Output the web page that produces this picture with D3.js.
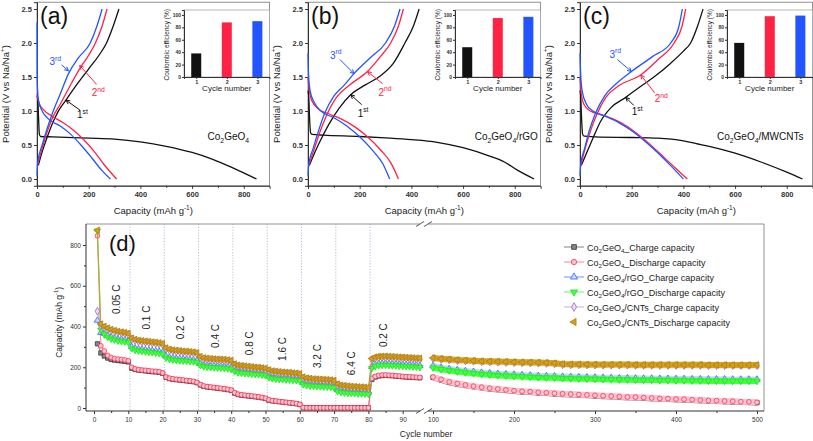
<!DOCTYPE html>
<html>
<head>
<meta charset="utf-8">
<script src="https://cdn.jsdelivr.net/npm/d3@7"></script>
<style>
    body { margin: 0; background: #fff; }
    svg text { font-family: Arial, "Liberation Sans", sans-serif; }
</style>
</head>
<body>
<svg id="chart" width="813" height="441"></svg>
<script>
"use strict";

// ---- panels (a)-(c): [capacity mAh/g, potential V] ----
var capTicks = [0, 200, 400, 600, 800];
var potTicks = [0, 0.5, 1, 1.5, 2, 2.5];

var aDis1 = [[0,1.22],[3,1.18],[6,0.9],[9,0.66],[14,0.625],[60,0.62],[200,0.6],[300,0.585],[400,0.545],[500,0.48],[600,0.39],[680,0.29],[760,0.16],[849,0]];
var aCha1 = [[5,0.2],[20,0.4],[40,0.62],[60,0.82],[80,0.98],[112,1.16],[160,1.42],[200,1.62],[240,1.82],[269,2.0],[295,2.25],[317,2.5]];
var aDis2 = [[0,1.25],[8,1.12],[25,1.02],[60,0.92],[100,0.83],[140,0.72],[180,0.58],[220,0.41],[260,0.21],[308,0]];
var aCha2 = [[3,0.22],[20,0.45],[40,0.7],[60,0.9],[90,1.1],[125,1.35],[165,1.62],[200,1.82],[226,2.0],[252,2.25],[271,2.5]];
var aDis3 = [[0,2.3],[1,1.42],[6,1.15],[20,1.0],[45,0.88],[90,0.78],[130,0.66],[170,0.5],[210,0.32],[250,0.13],[284,0]];
var aCha3 = [[0,0.05],[3,0.25],[20,0.5],[40,0.75],[60,0.97],[90,1.25],[122,1.55],[160,1.78],[206,2.0],[232,2.25],[252,2.5]];

var bDis1 = [[0,1.3],[3,1.2],[6,0.9],[10,0.68],[16,0.655],[60,0.645],[200,0.625],[300,0.605],[400,0.58],[500,0.54],[600,0.46],[700,0.34],[760,0.25],[810,0.13],[875,0]];
var bCha1 = [[5,0.2],[25,0.38],[50,0.58],[80,0.8],[120,1.04],[165,1.24],[220,1.38],[281,1.52],[330,1.7],[375,2.0],[408,2.25],[430,2.5]];
var bDis2 = [[0,1.5],[5,1.3],[15,1.15],[40,1.03],[80,0.96],[130,0.88],[180,0.77],[230,0.62],[280,0.43],[320,0.24],[350,0]];
var bCha2 = [[3,0.2],[25,0.45],[45,0.68],[70,0.92],[110,1.2],[160,1.38],[230,1.58],[280,1.8],[320,2.0],[350,2.25],[369,2.5]];
var bDis3 = [[0,1.85],[2,1.55],[8,1.3],[25,1.12],[50,1.0],[100,0.9],[150,0.78],[200,0.62],[250,0.42],[290,0.22],[316,0]];
var bCha3 = [[0,0.05],[3,0.22],[20,0.45],[40,0.7],[65,0.97],[100,1.22],[140,1.38],[178,1.55],[240,1.78],[300,2.0],[335,2.25],[356,2.5]];

var cDis1 = [[0,1.3],[3,1.2],[6,0.9],[10,0.66],[16,0.63],[60,0.62],[200,0.61],[300,0.6],[400,0.56],[450,0.52],[500,0.48],[600,0.38],[700,0.25],[800,0.1],[861,0]];
var cCha1 = [[5,0.2],[25,0.38],[50,0.6],[80,0.85],[120,1.05],[177,1.2],[230,1.35],[286,1.5],[350,1.7],[400,1.88],[428,2.0],[455,2.25],[476,2.5]];
var cDis2 = [[0,1.5],[5,1.25],[15,1.1],[40,1.0],[80,0.95],[130,0.88],[180,0.78],[230,0.64],[280,0.48],[330,0.3],[375,0.14],[415,0]];
var cCha2 = [[3,0.2],[20,0.45],[40,0.7],[65,0.95],[100,1.2],[150,1.37],[235,1.53],[300,1.75],[364,2.0],[395,2.25],[409,2.5]];
var cDis3 = [[0,1.85],[2,1.6],[8,1.3],[25,1.1],[50,1.0],[100,0.92],[150,0.83],[200,0.71],[250,0.56],[300,0.39],[350,0.2],[400,0]];
var cCha3 = [[0,0.05],[3,0.22],[18,0.45],[35,0.7],[58,0.95],[95,1.22],[140,1.4],[199,1.58],[280,1.8],[351,2.0],[383,2.25],[396,2.5]];

// coulombic efficiency insets (%), cycles 1..3
var ceCycles = [1, 2, 3];
var ceTicks = [0, 20, 40, 60, 80, 100];
var ceA = [38, 88, 90];
var ceB = [48, 95, 97];
var ceC = [55, 98, 99];

// ---- panel (d): rate + long cycling ----
var yTicksD = [0, 200, 400, 600, 800];
var leftTicks = [0, 10, 20, 30, 40, 50, 60, 70, 80, 90];
var rightTicks = [100, 200, 300, 400, 500];
var rateLabels = ["0.05 C", "0.1 C", "0.2 C", "0.4 C", "0.8 C", "1.6 C", "3.2 C", "6.4 C", "0.2 C"];
var rateLabelCycles = [6.7, 15.2, 25.1, 35.3, 45.2, 55.1, 65.3, 75.2, 84.3];
var cyclesL = d3.range(1, 96);
var cyclesR = d3.range(100, 501, 10);

var blackL = [315,270,255,245,238,235,233,231,229,226,
    195,189,186,184,182,180,178,177,175,170,
    150,144,141,139,137,135,133,131,129,124,
    113,106,103,101,99,97,95,93,90,86,
    73,66,63,61,59,57,55,53,50,46,
    38,35,33,31,29,27,25,23,21,17,
    1,1,1,1,1,1,1,1,1,1,1,1,1,1,1,1,1,1,1,1,
    140,152,157,159,160,159,158,156,155,153,152,151,150,149,148];
var redL = [845,305,280,258,248,242,240,238,236,232,
    200,192,188,186,185,183,181,180,178,172,
    152,146,143,141,139,137,135,133,131,126,
    115,108,105,103,101,99,97,95,92,88,
    75,68,65,63,61,59,57,55,52,48,
    40,36,34,32,30,28,26,24,22,18,
    2,1,1,1,1,1,1,1,1,1,1,1,1,1,1,1,1,1,1,1,
    145,155,160,162,162,161,160,158,157,155,154,153,152,151,150];
var blueL = [430,370,366,356,348,343,338,336,334,330,
    300,293,289,287,285,283,281,279,277,273,
    254,248,245,243,241,240,239,237,236,233,
    218,212,210,208,207,206,205,204,202,199,
    188,182,180,178,177,176,174,173,171,168,
    158,153,151,149,148,147,146,145,144,141,
    124,119,117,116,115,114,113,112,111,109,
    90,85,83,82,81,80,79,79,78,77,
    203,213,217,219,219,218,217,216,215,214,213,212,211,210,208];
var greenL = [870,383,360,348,340,335,330,328,326,322,
    292,285,281,279,277,275,273,271,269,265,
    246,240,237,235,233,232,231,229,228,225,
    210,204,202,200,199,198,197,196,194,191,
    180,174,172,170,169,168,166,165,163,160,
    150,145,143,141,140,139,138,137,136,133,
    116,111,109,108,107,106,105,104,103,101,
    82,77,75,74,73,72,71,71,70,69,
    195,205,209,211,211,210,209,208,207,206,205,204,203,202,200];
var purpleL = [475,405,395,387,380,375,371,368,365,361,
    338,331,327,325,323,321,319,317,315,311,
    290,283,280,278,276,274,273,271,270,266,
    247,241,239,237,236,235,234,233,231,228,
    211,205,203,201,199,197,195,194,192,189,
    182,177,175,173,171,170,169,167,166,163,
    147,142,140,138,137,136,135,134,133,130,
    113,107,105,103,101,100,99,98,97,95,
    238,245,248,249,249,248,247,246,245,244,243,242,241,240,239];
var goldL = [872,412,400,392,385,380,376,373,370,366,
    343,336,332,330,328,326,324,322,320,316,
    295,288,285,283,281,279,278,276,275,271,
    252,246,244,242,241,240,239,238,236,233,
    216,210,208,206,204,202,200,199,197,194,
    187,182,180,178,176,175,174,172,171,168,
    152,147,145,143,142,141,140,139,138,135,
    118,112,110,108,106,105,104,103,102,100,
    243,250,253,254,254,253,252,251,250,249,248,247,246,245,244];

var blackR = [150,138,126,118,111,105,100,95,91,87,83,80,78,75,73,70,68,66,64,62,
    60,58,56,54,52,51,49,47,45,44,42,41,39,37,35,34,32,31,29,28,26];
var redR = [152,140,128,120,113,107,102,97,93,89,85,82,80,77,75,72,70,68,66,64,
    62,60,58,56,54,53,51,49,47,46,44,43,41,39,37,36,34,33,31,30,28];
var blueR = [206,198,192,187,182,178,174,171,168,166,164,162,160,158,157,156,154,153,152,151,
    150,149,148,147,147,146,145,145,144,144,143,143,142,142,141,141,141,140,140,140,140];
var greenR = [198,190,184,179,174,170,166,163,160,158,156,154,152,150,149,148,146,145,144,143,
    142,141,140,139,139,138,137,137,136,136,135,135,134,134,133,133,133,132,132,132,132];
var purpleR = [243,239,236,233,231,229,227,226,225,224,223,222,221,220,219,217,213,212,212,211,
    211,210,210,210,210,209,209,209,209,209,209,209,209,209,208,208,208,208,208,208,208];
var goldR = [246,242,239,236,234,232,230,229,228,227,226,225,224,223,222,220,216,215,215,214,
    214,213,213,213,213,212,212,212,212,212,212,212,212,212,211,211,211,211,211,211,211];

var seriesNames = ["Co_{2}GeO_{4}_Charge capacity", "Co_{2}GeO_{4}_Discharge capacity",
    "Co_{2}GeO_{4}/rGO_Charge capacity", "Co_{2}GeO_{4}/rGO_Discharge capacity",
    "Co_{2}GeO_{4}/CNTs_Charge capacity", "Co_{2}GeO_{4}/CNTs_Discharge capacity"];

var svg = d3.select('#chart');
var BLACK = '#111', RED = '#ff2244', BLUE = '#2255ff';

// text with _{sub} and ^{sup}
function rich(el, str, size) {
    var off = 0;
    str.split(/([_^]\{[^}]*\})/).forEach(function(p) {
        if (!p) return;
        var t = el.append('tspan'), target = 0, txt = p;
        if (p.indexOf('_{') === 0) { target = size * 0.3; txt = p.slice(2, -1); t.attr('font-size', size * 0.68); }
        else if (p.indexOf('^{') === 0) { target = -size * 0.42; txt = p.slice(2, -1); t.attr('font-size', size * 0.68); }
        t.attr('dy', target - off).text(txt);
        off = target;
    });
    return el;
}

function styleAxis(ax, fs, bold) {
    ax.select('.domain').attr('stroke', '#333');
    ax.selectAll('.tick line').attr('stroke', '#333');
    ax.selectAll('.tick text').attr('font-size', fs).attr('fill', '#333')
        .attr('font-weight', bold ? 'bold' : 'normal');
}

function arrow(g, x1, y1, x2, y2, color) {
    var a = Math.atan2(y2 - y1, x2 - x1), h = 4.5;
    g.append('path')
        .attr('d', 'M' + x1 + ',' + y1 + 'L' + x2 + ',' + y2 +
            'M' + (x2 - h * Math.cos(a - 0.45)) + ',' + (y2 - h * Math.sin(a - 0.45)) +
            'L' + x2 + ',' + y2 +
            'L' + (x2 - h * Math.cos(a + 0.45)) + ',' + (y2 - h * Math.sin(a + 0.45)))
        .attr('fill', 'none').attr('stroke', color).attr('stroke-width', 1);
}

function potentialPanel(p) {
    var g = svg.append('g');
    var x = d3.scaleLinear().domain([0, 900]).range([p.left, p.left + 232.6]);
    var y = d3.scaleLinear().domain([-0.1, 2.6]).range([185.8, 2.2]);

    g.append('rect').attr('x', x(0)).attr('y', y(2.6))
        .attr('width', x(900) - x(0)).attr('height', y(-0.1) - y(2.6))
        .attr('fill', 'none').attr('stroke', '#777').attr('stroke-width', 0.8);

    var xa = g.append('g').attr('transform', 'translate(0,' + y(-0.1) + ')')
        .call(d3.axisBottom(x).tickValues(capTicks).tickSize(3).tickPadding(3));
    styleAxis(xa, 7.5, true);
    g.append('g').attr('transform', 'translate(0,' + y(-0.1) + ')')
        .call(d3.axisBottom(x).tickValues([100, 300, 500, 700]).tickSize(2).tickFormat(''))
        .call(function(s) { s.select('.domain').remove(); s.selectAll('line').attr('stroke', '#333'); });
    var ya = g.append('g').attr('transform', 'translate(' + x(0) + ',0)')
        .call(d3.axisLeft(y).tickValues(potTicks).tickSize(3).tickPadding(2).tickFormat(d3.format('.1f')));
    styleAxis(ya, 7.5, true);

    rich(g.append('text').attr('x', x(450)).attr('y', 214).attr('text-anchor', 'middle')
        .attr('font-size', 9.5).attr('fill', '#222'), 'Capacity (mAh g^{-1})', 9.5);
    rich(g.append('text').attr('transform', 'translate(' + (p.left - 28) + ',' + y(1.25) + ') rotate(-90)')
        .attr('text-anchor', 'middle').attr('font-size', 9.5).attr('fill', '#222'),
        'Potential (V vs Na/Na^{+})', 9.5);

    var line = d3.line().x(function(d) { return x(d[0]); }).y(function(d) { return y(d[1]); })
        .curve(d3.curveMonotoneX);
    p.curves.forEach(function(c) {
        g.append('path').datum(c[0]).attr('d', line).attr('fill', 'none')
            .attr('stroke', c[1]).attr('stroke-width', 1.3);
    });

    g.append('text').attr('x', p.left + 3).attr('y', 24).attr('font-size', 23).attr('fill', '#111').text(p.tag);
    rich(g.append('text').attr('x', x(p.labelCap)).attr('y', 140).attr('font-size', 10).attr('fill', '#111'), p.label, 10);

    p.notes.forEach(function(n) {
        var tx = x(n.tip[0]), ty = y(n.tip[1]);
        arrow(g, tx + n.tail[0], ty + n.tail[1], tx, ty, n.color);
        rich(g.append('text').attr('x', tx + n.text[0]).attr('y', ty + n.text[1])
            .attr('font-size', 10).attr('fill', n.color), n.str, 10);
    });

    // inset: coulombic efficiency
    var ix = d3.scaleLinear().domain([0.6, 3.4]).range([p.left + 147, p.left + 232.6]);
    var iy = d3.scaleLinear().domain([0, 108]).range([77, 10]);
    g.append('rect').attr('x', ix(0.6)).attr('y', iy(108)).attr('width', ix(3.4) - ix(0.6))
        .attr('height', iy(0) - iy(108)).attr('fill', '#fff').attr('stroke', '#999').attr('stroke-width', 0.7);
    g.selectAll('.bar').data(p.ce).enter().append('rect')
        .attr('x', function(d, i) { return ix(ceCycles[i]) - 5; })
        .attr('y', function(d) { return iy(d); })
        .attr('width', 10)
        .attr('height', function(d) { return iy(0) - iy(d); })
        .attr('fill', function(d, i) { return [BLACK, RED, BLUE][i]; });
    var ixa = g.append('g').attr('transform', 'translate(0,' + iy(0) + ')')
        .call(d3.axisBottom(ix).tickValues(ceCycles).tickSize(2).tickPadding(1).tickFormat(d3.format('d')));
    styleAxis(ixa, 5.5, true);
    var iya = g.append('g').attr('transform', 'translate(' + ix(0.6) + ',0)')
        .call(d3.axisLeft(iy).tickValues(ceTicks).tickSize(2).tickPadding(1));
    styleAxis(iya, 5, true);
    g.append('text').attr('x', ix(2)).attr('y', 91).attr('text-anchor', 'middle')
        .attr('font-size', 8).attr('fill', '#222').text('Cycle number');
    g.append('text').attr('transform', 'translate(' + (ix(0.6) - 15) + ',' + iy(52) + ') rotate(-90)')
        .attr('text-anchor', 'middle').attr('font-size', 6.5).attr('fill', '#222').text('Coulombic efficiency (%)');
}

potentialPanel({
    left: 37, tag: '(a)', label: 'Co_{2}GeO_{4}', labelCap: 660, ce: ceA,
    curves: [[aDis1, BLACK], [aCha1, BLACK], [aDis2, RED], [aCha2, RED], [aDis3, BLUE], [aCha3, BLUE]],
    notes: [
        { str: '3^{rd}', color: BLUE, tip: [122, 1.59], tail: [-7, -6], text: [-19, -6] },
        { str: '2^{nd}', color: RED, tip: [165, 1.67], tail: [17, 19], text: [12, 31] },
        { str: '1^{st}', color: BLACK, tip: [112, 1.16], tail: [14, 10], text: [11, 18] }
    ]
});
potentialPanel({
    left: 308, tag: '(b)', label: 'Co_{2}GeO_{4}/rGO', labelCap: 645, ce: ceB,
    curves: [[bDis1, BLACK], [bCha1, BLACK], [bDis2, RED], [bCha2, RED], [bDis3, BLUE], [bCha3, BLUE]],
    notes: [
        { str: '3^{rd}', color: BLUE, tip: [178, 1.55], tail: [-14, -14], text: [-24, -15] },
        { str: '2^{nd}', color: RED, tip: [230, 1.58], tail: [15, 12], text: [11, 24] },
        { str: '1^{st}', color: BLACK, tip: [165, 1.24], tail: [11, 10], text: [7, 22] }
    ]
});
potentialPanel({
    left: 580, tag: '(c)', label: 'Co_{2}GeO_{4}/MWCNTs', labelCap: 530, ce: ceC,
    curves: [[cDis1, BLACK], [cCha1, BLACK], [cDis2, RED], [cCha2, RED], [cDis3, BLUE], [cCha3, BLUE]],
    notes: [
        { str: '3^{rd}', color: BLUE, tip: [199, 1.58], tail: [-14, -12], text: [-22, -14] },
        { str: '2^{nd}', color: RED, tip: [235, 1.53], tail: [14, 18], text: [14, 27] },
        { str: '1^{st}', color: BLACK, tip: [177, 1.2], tail: [8, 8], text: [6, 18] }
    ]
});

// ---- panel (d) ----
(function() {
    var g = svg.append('g');
    var top = 224, bottom = 411, left = 86, right = 764;
    var y = d3.scaleLinear().domain([0, 800]).range([408, 245]);
    var xL = d3.scaleLinear().domain([0, 90]).range([94, 402.7]);
    var xR = d3.scaleLinear().domain([100, 500]).range([433, 757]);
    var breakL = 420, breakR = 428;

    // frame
    g.append('path').attr('d', 'M' + left + ',' + top + 'H' + breakL + 'M' + breakR + ',' + top + 'H' + right + 'V' + bottom)
        .attr('fill', 'none').attr('stroke', '#777').attr('stroke-width', 0.8);
    g.append('path').attr('d', 'M' + left + ',' + top + 'V' + bottom + 'H' + breakL + 'M' + breakR + ',' + bottom + 'H' + right)
        .attr('fill', 'none').attr('stroke', '#333').attr('stroke-width', 1);
    [breakL, breakR].forEach(function(bx) {
        [top, bottom].forEach(function(by) {
            g.append('line').attr('x1', bx - 4).attr('y1', by + 2.5).attr('x2', bx + 4).attr('y2', by - 2.5)
                .attr('stroke', '#333').attr('stroke-width', 0.8);
        });
    });

    // rate dividers
    d3.range(10.5, 81, 10).forEach(function(c) {
        g.append('line').attr('x1', xL(c)).attr('x2', xL(c)).attr('y1', top).attr('y2', bottom)
            .attr('stroke', '#8fa3c8').attr('stroke-width', 0.7).attr('stroke-dasharray', '1.2,1.6');
    });

    // axes
    var ya = g.append('g').attr('transform', 'translate(' + left + ',0)')
        .call(d3.axisLeft(y).tickValues(yTicksD).tickSize(3).tickPadding(2));
    ya.select('.domain').remove();
    styleAxis(ya, 6.5, false);
    g.append('g').attr('transform', 'translate(' + left + ',0)')
        .call(d3.axisLeft(y).tickValues([100, 300, 500, 700]).tickSize(2).tickFormat(''))
        .call(function(s) { s.select('.domain').remove(); s.selectAll('line').attr('stroke', '#333'); });
    var xla = g.append('g').attr('transform', 'translate(0,' + bottom + ')')
        .call(d3.axisBottom(xL).tickValues(leftTicks).tickSize(3).tickPadding(3));
    xla.select('.domain').remove();
    styleAxis(xla, 6.5, false);
    var xra = g.append('g').attr('transform', 'translate(0,' + bottom + ')')
        .call(d3.axisBottom(xR).tickValues(rightTicks).tickSize(3).tickPadding(3));
    xra.select('.domain').remove();
    styleAxis(xra, 6.5, false);
    g.append('g').attr('transform', 'translate(0,' + bottom + ')')
        .call(d3.axisBottom(xL).tickValues(d3.range(5, 95, 10)).tickSize(2).tickFormat(''))
        .call(function(s) { s.select('.domain').remove(); s.selectAll('line').attr('stroke', '#333'); });
    g.append('g').attr('transform', 'translate(0,' + bottom + ')')
        .call(d3.axisBottom(xR).tickValues([150, 250, 350, 450]).tickSize(2).tickFormat(''))
        .call(function(s) { s.select('.domain').remove(); s.selectAll('line').attr('stroke', '#333'); });

    g.append('text').attr('x', 426).attr('y', 437).attr('text-anchor', 'middle')
        .attr('font-size', 8.5).attr('fill', '#222').text('Cycle number');
    rich(g.append('text').attr('transform', 'translate(62,' + y(420) + ') rotate(-90)')
        .attr('text-anchor', 'middle').attr('font-size', 8.5).attr('fill', '#222'), 'Capacity (mAh g^{-1})', 8.5);

    g.append('text').attr('x', 109).attr('y', 251).attr('font-size', 22).attr('fill', '#111').text('(d)');

    var series = [
        { L: blackL, R: blackR, sym: d3.symbolSquare, rot: 0, stroke: '#333', fill: '#888', line: '#666' },
        { L: redL, R: redR, sym: d3.symbolCircle, rot: 0, stroke: '#ff3355', fill: '#ffc4cf', line: '#ff6680' },
        { L: blueL, R: blueR, sym: d3.symbolTriangle, rot: 0, stroke: '#3366ff', fill: '#c9d6ff', line: '#4477ff' },
        { L: greenL, R: greenR, sym: d3.symbolTriangle, rot: 180, stroke: '#22e022', fill: '#44ff44', line: '#44ee44' },
        { L: purpleL, R: purpleR, sym: d3.symbolDiamond, rot: 0, stroke: '#9966cc', fill: '#eadcf5', line: '#bb99dd' },
        { L: goldL, R: goldR, sym: d3.symbolTriangle, rot: -90, stroke: '#b07f00', fill: '#d4a020', line: '#c89818' }
    ];

    var lineL = d3.line().x(function(d) { return xL(d[0]); }).y(function(d) { return y(d[1]); });
    var lineR = d3.line().x(function(d) { return xR(d[0]); }).y(function(d) { return y(d[1]); });

    series.forEach(function(s) {
        var ptsL = cyclesL.map(function(c, i) { return [c, s.L[i]]; });
        var ptsR = cyclesR.map(function(c, i) { return [c, s.R[i]]; });
        g.append('path').datum(ptsL).attr('d', lineL).attr('fill', 'none').attr('stroke', s.line).attr('stroke-width', 0.8);
        g.append('path').datum(ptsR).attr('d', lineR).attr('fill', 'none').attr('stroke', s.fill).attr('stroke-width', 6);
        var sym = d3.symbol().type(s.sym).size(18);
        g.selectAll(null).data(ptsL).enter().append('path').attr('d', sym)
            .attr('transform', function(d) { return 'translate(' + xL(d[0]) + ',' + y(d[1]) + ') rotate(' + s.rot + ')'; })
            .attr('fill', s.fill).attr('stroke', s.stroke).attr('stroke-width', 0.8);
        g.selectAll(null).data(ptsR).enter().append('path').attr('d', sym)
            .attr('transform', function(d) { return 'translate(' + xR(d[0]) + ',' + y(d[1]) + ') rotate(' + s.rot + ')'; })
            .attr('fill', s.fill).attr('stroke', s.stroke).attr('stroke-width', 0.8);
    });

    // rate labels above gold series at block start
    rateLabels.forEach(function(lab, i) {
        var c = i * 10 + 2, cx = xL(rateLabelCycles[i]);
        g.append('text').attr('transform', 'translate(' + (cx + 3.5) + ',' + (y(goldL[c - 1]) - 10) + ') rotate(-90)')
            .attr('font-size', 10).attr('fill', '#222').text(lab);
    });

    // legend
    var lg = g.append('g');
    series.forEach(function(s, i) {
        var ly = 247 + i * 15;
        if (i < 5) lg.append('line').attr('x1', 564).attr('x2', 584).attr('y1', ly).attr('y2', ly).attr('stroke', s.line).attr('stroke-width', 0.8);
        lg.append('path').attr('d', d3.symbol().type(s.sym).size(22))
            .attr('transform', 'translate(574,' + ly + ') rotate(' + s.rot + ')')
            .attr('fill', s.fill).attr('stroke', s.stroke).attr('stroke-width', 0.8);
        rich(lg.append('text').attr('x', 587).attr('y', ly + 3.5).attr('font-size', 9).attr('fill', '#222'), seriesNames[i], 9);
    });
})();
</script>
</body>
</html>
